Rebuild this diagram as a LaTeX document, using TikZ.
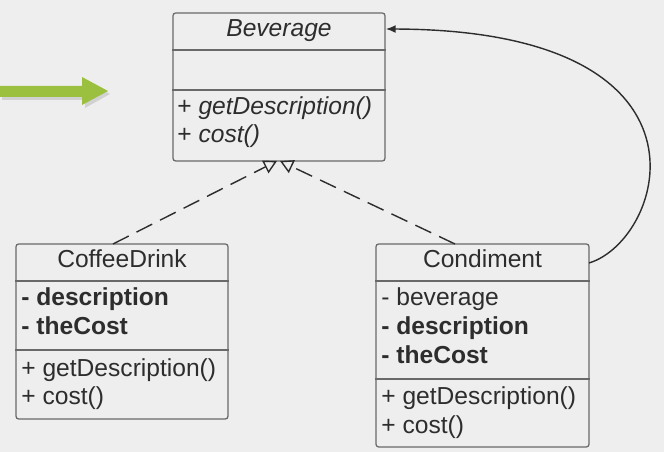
\documentclass[tikz,border=0pt]{standalone}
\usepackage{fontspec}
\setmainfont{Liberation Sans}
\usetikzlibrary{arrows.meta, positioning}

\definecolor{bgcol}{RGB}{238,238,238}
\definecolor{linecol}{RGB}{105,105,105}
\definecolor{textcol}{RGB}{45,45,45}
\definecolor{arrowgreen}{RGB}{155,192,64}

\tikzset{
  classbox/.style={draw=linecol, line width=0.7pt, rounded corners=1.5pt, inner sep=0pt},
  divider/.style={draw=linecol, line width=0.7pt},
  member/.style={anchor=base west, inner sep=0pt, text=textcol, font=\fontsize{14}{16}\selectfont},
  classname/.style={member, anchor=base},
  realize/.style={draw=textcol, line width=0.8pt, dash pattern=on 10pt off 5pt, -{Triangle[open, length=7.5pt, width=8pt]}},
  assoc/.style={draw=textcol, line width=0.8pt, -{Latex[length=5.5pt, width=4.5pt]}}
}

\begin{document}
\begin{tikzpicture}[x=0.02cm, y=-0.02cm]

% Background
\fill[bgcol] (0,0) rectangle (664,452);
\useasboundingbox (0,0) rectangle (664,452);

% Draw green arrow
\fill[black, opacity=0.12] (2,89) -- (85,89) -- (85,80) -- (110,94) -- (85,108) -- (85,100) -- (2,100) -- cycle;
\fill[arrowgreen] (0,86) -- (82,86) -- (82,77) -- (108,91) -- (82,105) -- (82,97) -- (0,97) -- cycle;

% Draw Beverage class
\node[classbox, minimum width=4.24cm, minimum height=2.96cm] (bev) at (279,87) {};
\draw[divider] (bev.west |- 0,50) -- (bev.east |- 0,50);
\draw[divider] (bev.west |- 0,90) -- (bev.east |- 0,90);
\node[classname] (bevname) at (279,37) {\textit{Beverage}};
\node[member] (bevget) at (177,115) {+ \textit{getDescription()}};
\node[member] (bevcost) at (177,143) {+ \textit{cost()}};

% Draw CoffeeDrink class
\node[classbox, minimum width=4.24cm, minimum height=3.5cm] (coffee) at (122,331.5) {};
\draw[divider] (coffee.west |- 0,281) -- (coffee.east |- 0,281);
\draw[divider] (coffee.west |- 0,350) -- (coffee.east |- 0,350);
\node[classname] (coffeename) at (122,268) {CoffeeDrink};
\node[member] (coffeedesc) at (21,306) {\textbf{- description}};
\node[member] (coffeecst) at (21,335) {\textbf{- theCost}};
\node[member] (coffeeget) at (21,377) {+ getDescription()};
\node[member] (coffeecost) at (21,405) {+ cost()};

% Draw Condiment class
\node[classbox, minimum width=4.26cm, minimum height=4.06cm] (cond) at (482.5,345.5) {};
\draw[divider] (cond.west |- 0,281) -- (cond.east |- 0,281);
\draw[divider] (cond.west |- 0,379) -- (cond.east |- 0,379);
\node[classname] (condname) at (482.5,268) {Condiment};
\node[member] (condbev) at (381,306) {- beverage};
\node[member] (conddesc) at (381,335) {\textbf{- description}};
\node[member] (condcst) at (381,364) {\textbf{- theCost}};
\node[member] (condget) at (381,405) {+ getDescription()};
\node[member] (condcost) at (381,434) {+ cost()};

% Draw realization arrows
\coordinate (coffeetop) at (113,244);
\coordinate (condtop) at (455,244);
\coordinate (bevleft) at (277,161);
\coordinate (bevright) at (280,161);
\draw[realize] (coffeetop) -- (bevleft);
\draw[realize] (condtop) -- (bevright);

% Draw association arrow
\coordinate (condside) at (589,263);
\coordinate (bevside) at (386,29);
\draw[assoc] (condside) .. controls (665,240) and (730,30) .. (bevside);

\end{tikzpicture}
\end{document}
